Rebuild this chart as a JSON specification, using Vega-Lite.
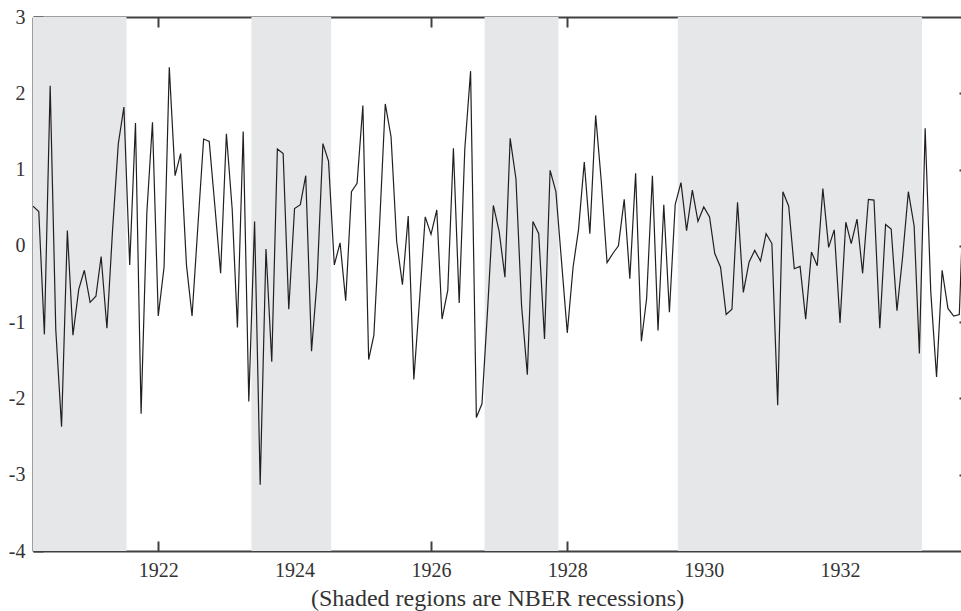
{
  "$schema": "https://vega.github.io/schema/vega-lite/v6.json",
  "width": 928,
  "height": 534,
  "autosize": {"type": "none"},
  "padding": {"left": 33, "top": 17, "right": 0, "bottom": 60},
  "background": "white",
  "config": {
    "view": {"stroke": null},
    "font": "Liberation Serif, serif",
    "axis": {
      "grid": false,
      "domainColor": "#404040",
      "tickColor": "#404040",
      "domainWidth": 2,
      "tickWidth": 2,
      "labelFont": "Liberation Serif, serif",
      "labelColor": "#333333",
      "labelFontSize": 20,
      "titleFont": "Liberation Serif, serif",
      "titleFontWeight": "normal",
      "titleFontSize": 24,
      "titleColor": "#333333"
    }
  },
  "datasets": {
    "rec": [
      {"start": "1920-01-15", "end": "1921-07-15"},
      {"start": "1923-05-15", "end": "1924-07-15"},
      {"start": "1926-10-15", "end": "1927-11-15"},
      {"start": "1929-08-15", "end": "1933-03-15"}
    ],
    "series": [
      {"date": "1920-03-01", "v": 0.52},
      {"date": "1920-04-01", "v": 0.45},
      {"date": "1920-05-01", "v": -1.16},
      {"date": "1920-06-01", "v": 2.10},
      {"date": "1920-07-01", "v": -1.1},
      {"date": "1920-08-01", "v": -2.37},
      {"date": "1920-09-01", "v": 0.20},
      {"date": "1920-10-01", "v": -1.17},
      {"date": "1920-11-01", "v": -0.57},
      {"date": "1920-12-01", "v": -0.32},
      {"date": "1921-01-01", "v": -0.74},
      {"date": "1921-02-01", "v": -0.66},
      {"date": "1921-03-01", "v": -0.14},
      {"date": "1921-04-01", "v": -1.08},
      {"date": "1921-05-01", "v": 0.2},
      {"date": "1921-06-01", "v": 1.34},
      {"date": "1921-07-01", "v": 1.82},
      {"date": "1921-08-01", "v": -0.25},
      {"date": "1921-09-01", "v": 1.61},
      {"date": "1921-10-01", "v": -2.20},
      {"date": "1921-11-01", "v": 0.44},
      {"date": "1921-12-01", "v": 1.62},
      {"date": "1922-01-01", "v": -0.92},
      {"date": "1922-02-01", "v": -0.28},
      {"date": "1922-03-01", "v": 2.34},
      {"date": "1922-04-01", "v": 0.92},
      {"date": "1922-05-01", "v": 1.21},
      {"date": "1922-06-01", "v": -0.25},
      {"date": "1922-07-01", "v": -0.92},
      {"date": "1922-08-01", "v": 0.25},
      {"date": "1922-09-01", "v": 1.40},
      {"date": "1922-10-01", "v": 1.37},
      {"date": "1922-11-01", "v": 0.5},
      {"date": "1922-12-01", "v": -0.36},
      {"date": "1923-01-01", "v": 1.47},
      {"date": "1923-02-01", "v": 0.48},
      {"date": "1923-03-01", "v": -1.07},
      {"date": "1923-04-01", "v": 1.50},
      {"date": "1923-05-01", "v": -2.04},
      {"date": "1923-06-01", "v": 0.32},
      {"date": "1923-07-01", "v": -3.13},
      {"date": "1923-08-01", "v": -0.04},
      {"date": "1923-09-01", "v": -1.52},
      {"date": "1923-10-01", "v": 1.27},
      {"date": "1923-11-01", "v": 1.21},
      {"date": "1923-12-01", "v": -0.83},
      {"date": "1924-01-01", "v": 0.49},
      {"date": "1924-02-01", "v": 0.54},
      {"date": "1924-03-01", "v": 0.92},
      {"date": "1924-04-01", "v": -1.38},
      {"date": "1924-05-01", "v": -0.44},
      {"date": "1924-06-01", "v": 1.34},
      {"date": "1924-07-01", "v": 1.11},
      {"date": "1924-08-01", "v": -0.25},
      {"date": "1924-09-01", "v": 0.04},
      {"date": "1924-10-01", "v": -0.72},
      {"date": "1924-11-01", "v": 0.71},
      {"date": "1924-12-01", "v": 0.82},
      {"date": "1925-01-01", "v": 1.84},
      {"date": "1925-02-01", "v": -1.49},
      {"date": "1925-03-01", "v": -1.17},
      {"date": "1925-04-01", "v": 0.3},
      {"date": "1925-05-01", "v": 1.86},
      {"date": "1925-06-01", "v": 1.43},
      {"date": "1925-07-01", "v": 0.06},
      {"date": "1925-08-01", "v": -0.51},
      {"date": "1925-09-01", "v": 0.39},
      {"date": "1925-10-01", "v": -1.75},
      {"date": "1925-11-01", "v": -0.7},
      {"date": "1925-12-01", "v": 0.38},
      {"date": "1926-01-01", "v": 0.15},
      {"date": "1926-02-01", "v": 0.47},
      {"date": "1926-03-01", "v": -0.96},
      {"date": "1926-04-01", "v": -0.58},
      {"date": "1926-05-01", "v": 1.28},
      {"date": "1926-06-01", "v": -0.75},
      {"date": "1926-07-01", "v": 1.27},
      {"date": "1926-08-01", "v": 2.29},
      {"date": "1926-09-01", "v": -2.25},
      {"date": "1926-10-01", "v": -2.07},
      {"date": "1926-11-01", "v": -0.8},
      {"date": "1926-12-01", "v": 0.53},
      {"date": "1927-01-01", "v": 0.19},
      {"date": "1927-02-01", "v": -0.41},
      {"date": "1927-03-01", "v": 1.41},
      {"date": "1927-04-01", "v": 0.88},
      {"date": "1927-05-01", "v": -0.78},
      {"date": "1927-06-01", "v": -1.69},
      {"date": "1927-07-01", "v": 0.32},
      {"date": "1927-08-01", "v": 0.16},
      {"date": "1927-09-01", "v": -1.22},
      {"date": "1927-10-01", "v": 0.99},
      {"date": "1927-11-01", "v": 0.71},
      {"date": "1927-12-01", "v": -0.2},
      {"date": "1928-01-01", "v": -1.14},
      {"date": "1928-02-01", "v": -0.28},
      {"date": "1928-03-01", "v": 0.21},
      {"date": "1928-04-01", "v": 1.10},
      {"date": "1928-05-01", "v": 0.16},
      {"date": "1928-06-01", "v": 1.71},
      {"date": "1928-07-01", "v": 0.85},
      {"date": "1928-08-01", "v": -0.22},
      {"date": "1928-09-01", "v": -0.1},
      {"date": "1928-10-01", "v": 0.0},
      {"date": "1928-11-01", "v": 0.61},
      {"date": "1928-12-01", "v": -0.43},
      {"date": "1929-01-01", "v": 0.95},
      {"date": "1929-02-01", "v": -1.25},
      {"date": "1929-03-01", "v": -0.69},
      {"date": "1929-04-01", "v": 0.92},
      {"date": "1929-05-01", "v": -1.11},
      {"date": "1929-06-01", "v": 0.54},
      {"date": "1929-07-01", "v": -0.87},
      {"date": "1929-08-01", "v": 0.54},
      {"date": "1929-09-01", "v": 0.83},
      {"date": "1929-10-01", "v": 0.20},
      {"date": "1929-11-01", "v": 0.73},
      {"date": "1929-12-01", "v": 0.32},
      {"date": "1930-01-01", "v": 0.51},
      {"date": "1930-02-01", "v": 0.38},
      {"date": "1930-03-01", "v": -0.10},
      {"date": "1930-04-01", "v": -0.28},
      {"date": "1930-05-01", "v": -0.90},
      {"date": "1930-06-01", "v": -0.83},
      {"date": "1930-07-01", "v": 0.57},
      {"date": "1930-08-01", "v": -0.61},
      {"date": "1930-09-01", "v": -0.21},
      {"date": "1930-10-01", "v": -0.06},
      {"date": "1930-11-01", "v": -0.20},
      {"date": "1930-12-01", "v": 0.16},
      {"date": "1931-01-01", "v": 0.03},
      {"date": "1931-02-01", "v": -2.09},
      {"date": "1931-03-01", "v": 0.71},
      {"date": "1931-04-01", "v": 0.52},
      {"date": "1931-05-01", "v": -0.30},
      {"date": "1931-06-01", "v": -0.27},
      {"date": "1931-07-01", "v": -0.96},
      {"date": "1931-08-01", "v": -0.08},
      {"date": "1931-09-01", "v": -0.26},
      {"date": "1931-10-01", "v": 0.75},
      {"date": "1931-11-01", "v": -0.02},
      {"date": "1931-12-01", "v": 0.21},
      {"date": "1932-01-01", "v": -1.01},
      {"date": "1932-02-01", "v": 0.31},
      {"date": "1932-03-01", "v": 0.03},
      {"date": "1932-04-01", "v": 0.35},
      {"date": "1932-05-01", "v": -0.36},
      {"date": "1932-06-01", "v": 0.61},
      {"date": "1932-07-01", "v": 0.60},
      {"date": "1932-08-01", "v": -1.08},
      {"date": "1932-09-01", "v": 0.28},
      {"date": "1932-10-01", "v": 0.22},
      {"date": "1932-11-01", "v": -0.85},
      {"date": "1932-12-01", "v": -0.15},
      {"date": "1933-01-01", "v": 0.71},
      {"date": "1933-02-01", "v": 0.26},
      {"date": "1933-03-01", "v": -1.41},
      {"date": "1933-04-01", "v": 1.54},
      {"date": "1933-05-01", "v": -0.6},
      {"date": "1933-06-01", "v": -1.72},
      {"date": "1933-07-01", "v": -0.32},
      {"date": "1933-08-01", "v": -0.82},
      {"date": "1933-09-01", "v": -0.92},
      {"date": "1933-10-01", "v": -0.90},
      {"date": "1933-11-01", "v": 1.2}
    ]
  },
  "layer": [
    {
      "data": {"name": "rec"},
      "mark": {"type": "rect", "color": "#e6e7e9", "clip": true},
      "encoding": {
        "x": {
          "field": "start",
          "type": "temporal",
          "scale": {"type": "utc", "domain": [{"year": 1920, "month": 3, "date": 1, "utc": true}, {"year": 1933, "month": 10, "date": 10, "utc": true}]},
          "axis": {
            "orient": "top",
            "labels": false,
            "title": null,
            "tickSize": -10,
            "values": [
              {"year": 1922, "month": 1, "date": 1, "utc": true},
              {"year": 1924, "month": 1, "date": 1, "utc": true},
              {"year": 1926, "month": 1, "date": 1, "utc": true},
              {"year": 1928, "month": 1, "date": 1, "utc": true},
              {"year": 1930, "month": 1, "date": 1, "utc": true},
              {"year": 1932, "month": 1, "date": 1, "utc": true}
            ]
          }
        },
        "x2": {"field": "end"}
      }
    },
    {
      "data": {"name": "series"},
      "mark": {"type": "line", "color": "#231f20", "strokeWidth": 1.2, "clip": true},
      "encoding": {
        "x": {
          "field": "date",
          "type": "temporal",
          "scale": {"type": "utc", "domain": [{"year": 1920, "month": 3, "date": 1, "utc": true}, {"year": 1933, "month": 10, "date": 10, "utc": true}]},
          "axis": {
            "orient": "bottom",
            "title": "(Shaded regions are NBER recessions)",
            "format": "%Y",
            "formatType": "utc",
            "tickSize": -10,
            "labelPadding": 19,
            "titleY": 54,
            "titleBaseline": "alphabetic",
            "values": [
              {"year": 1922, "month": 1, "date": 1, "utc": true},
              {"year": 1924, "month": 1, "date": 1, "utc": true},
              {"year": 1926, "month": 1, "date": 1, "utc": true},
              {"year": 1928, "month": 1, "date": 1, "utc": true},
              {"year": 1930, "month": 1, "date": 1, "utc": true},
              {"year": 1932, "month": 1, "date": 1, "utc": true}
            ]
          }
        },
        "y": {
          "field": "v",
          "type": "quantitative",
          "scale": {"domain": [-4, 3], "nice": false},
          "axis": {
            "orient": "left",
            "title": null,
            "values": [-4, -3, -2, -1, 0, 1, 2, 3],
            "labelExpr": "'' + datum.value",
            "tickSize": -10,
            "labelPadding": 18
          }
        }
      }
    },
    {
      "data": {"name": "series"},
      "mark": {"type": "line", "strokeOpacity": 0},
      "encoding": {
        "x": {"field": "date", "type": "temporal", "axis": null},
        "y": {
          "field": "v",
          "type": "quantitative",
          "axis": {
            "orient": "right",
            "title": null,
            "labels": false,
            "domain": false,
            "tickSize": -2,
            "values": [-3, -2, -1, 0, 1, 2]
          }
        }
      }
    }
  ],
  "resolve": {"axis": {"x": "independent", "y": "independent"}}
}
